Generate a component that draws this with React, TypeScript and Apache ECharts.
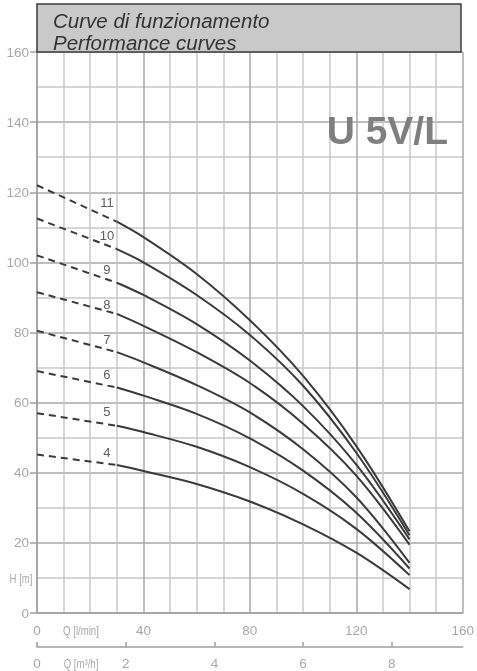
import React, { useEffect, useRef } from "react";
import * as echarts from "echarts";

// Stage labels (number of impellers)
const stages = ["11", "10", "9", "8", "7", "6", "5", "4"];

// Dashed section: flow Q [l/min] from shut-off to start of working range
const dashedFlow = [0, 30];
const headShutoff = [122, 112.5, 102, 91.5, 80.5, 69, 57, 45.2];

// Solid section flow points Q [l/min]
const solidFlow = [30, 40, 60, 80, 100, 120, 140];
const head11 = [111.6, 107.2, 96.7, 83.5, 67.6, 47.6, 23.3];
const head10 = [103.8, 100.0, 90.7, 79.3, 64.8, 45.7, 22.2];
const head9 = [94.2, 90.7, 82.4, 72.0, 59.0, 42.3, 21.0];
const head8 = [85.3, 81.9, 74.4, 65.6, 54.0, 39.2, 19.5];
const head7 = [74.4, 71.5, 65.0, 57.2, 46.7, 33.0, 14.3];
const head6 = [64.3, 62.0, 56.8, 49.8, 40.6, 28.6, 12.7];
const head5 = [53.4, 51.6, 47.4, 41.6, 34.0, 24.0, 10.8];
const head4 = [42.2, 40.5, 36.8, 31.8, 25.3, 17.2, 6.8];
const solidHeads = [head11, head10, head9, head8, head7, head6, head5, head4];

// Stage label anchor (flow, head)
const labelFlow = 26.3;
const labelHead = [117, 107.8, 98, 88.1, 77.9, 67.9, 57.4, 45.7];

// Axis ranges
const yTicksMax = 160;
const qLminMax = 160;
const qM3hMax = 9.6;

const LINE = "#3a3a3a";
const AXIS = "#a0a0a0";
const LABEL = "#a8a8a8";
const SANS = "'Liberation Sans', Arial, sans-serif";

export default function App() {
  const ref = useRef<HTMLDivElement>(null);
  useEffect(() => {
    if (!ref.current) return;
    const chart = echarts.init(ref.current, undefined, { renderer: "svg" });
    const series: any[] = [];
    stages.forEach((s, i) => {
      series.push({
        type: "line",
        name: "d" + s,
        data: dashedFlow.map((q, k) => [q, k === 0 ? headShutoff[i] : solidHeads[i][0]]),
        symbol: "none",
        lineStyle: { color: LINE, width: 2, type: [7, 5] },
        z: 5,
      });
      series.push({
        type: "line",
        name: s,
        data: solidFlow.map((q, k) => [q, solidHeads[i][k]]),
        symbol: "none",
        smooth: 0.35,
        lineStyle: { color: LINE, width: 2 },
        z: 5,
      });
    });
    series.push({
      type: "scatter",
      name: "labels",
      data: stages.map((s, i) => ({ value: [labelFlow, labelHead[i]], name: s })),
      symbolSize: 0,
      label: {
        show: true,
        position: "inside",
        formatter: (p: any) => p.name,
        fontFamily: SANS,
        fontSize: 13,
        color: "#333",
      },
      z: 6,
    });

    const narrowText = (text: string, x: number, y: number) => ({
      type: "text",
      x,
      y,
      scaleX: 0.74,
      style: { text, fontFamily: SANS, fontSize: 13, fill: LABEL, align: "center", verticalAlign: "middle" },
    });

    chart.setOption({
      animation: false,
      textStyle: { fontFamily: SANS },
      grid: { left: 37, right: 14, top: 52, bottom: 58, containLabel: false },
      xAxis: [
        {
          type: "value",
          min: 0,
          max: qLminMax,
          interval: 40,
          axisLine: { show: true, lineStyle: { color: AXIS, width: 1.5 } },
          axisTick: { show: false },
          axisLabel: { color: LABEL, fontSize: 13.5, margin: 10 },
          splitLine: { show: true, lineStyle: { color: "#a8a8a8", width: 1.5 } },
          minorTick: { show: false, splitNumber: 4 },
          minorSplitLine: { show: true, lineStyle: { color: "#c8c8c8", width: 1.5 } },
        },
        {
          type: "value",
          position: "bottom",
          offset: 34,
          min: 0,
          max: qM3hMax,
          interval: 2,
          axisLine: { show: true, onZero: false, lineStyle: { color: AXIS, width: 1.5 } },
          axisTick: { show: true, inside: true, length: 5, lineStyle: { color: AXIS, width: 1.5 } },
          axisLabel: { color: LABEL, fontSize: 13.5, margin: 9, showMaxLabel: false },
          splitLine: { show: false },
        },
      ],
      yAxis: {
        type: "value",
        min: 0,
        max: yTicksMax,
        interval: 20,
        axisLine: { show: true, lineStyle: { color: AXIS, width: 1.5 } },
        axisTick: { show: true, length: 7, lineStyle: { color: AXIS, width: 1.5 } },
        axisLabel: { color: LABEL, fontSize: 13.5, margin: 8 },
        splitLine: { show: true, lineStyle: { color: "#a8a8a8", width: 1.5 } },
        minorTick: { show: false, splitNumber: 2 },
        minorSplitLine: { show: true, lineStyle: { color: "#c8c8c8", width: 1.5 } },
      },
      series,
      graphic: [
        {
          type: "rect",
          shape: { x: 37, y: 4, width: 424, height: 48 },
          style: { fill: "#c9c9c9", stroke: "#3c3c3c", lineWidth: 1.5 },
          z: 20,
        },
        {
          type: "text",
          x: 53,
          y: 20,
          style: {
            text: "Curve di funzionamento",
            fontFamily: SANS,
            fontStyle: "italic",
            fontSize: 20.5,
            fill: "#333",
            verticalAlign: "middle",
          },
          z: 21,
        },
        {
          type: "text",
          x: 53,
          y: 42,
          style: {
            text: "Performance curves",
            fontFamily: SANS,
            fontStyle: "italic",
            fontSize: 20.5,
            fill: "#333",
            verticalAlign: "middle",
          },
          z: 21,
        },
        {
          type: "text",
          x: 448,
          y: 130,
          style: {
            text: "U 5V/L",
            fontFamily: SANS,
            fontWeight: "bold",
            fontSize: 39,
            fill: "#7f7f7f",
            align: "right",
            verticalAlign: "middle",
          },
          z: 21,
        },
        narrowText("H [m]", 21, 578),
        narrowText("Q [l/min]", 81, 630),
        narrowText("Q [m³/h]", 81, 663),
      ],
    });
    return () => chart.dispose();
  }, []);
  return <div ref={ref} style={{ position: "fixed", left: 0, top: 0, width: 477, height: 671 }} />;
}
